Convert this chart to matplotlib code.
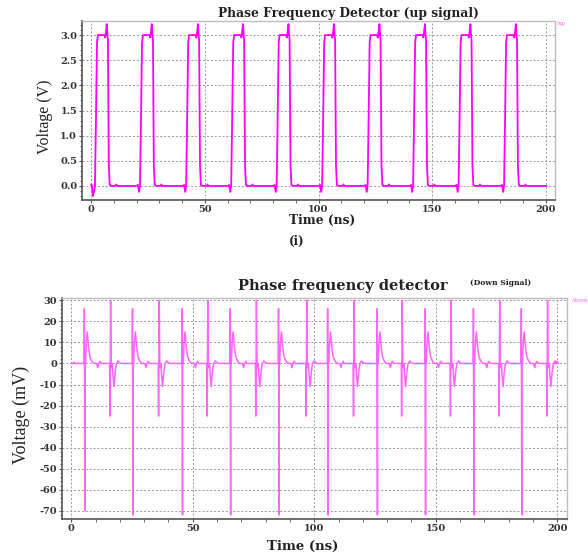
import numpy as np
import matplotlib
matplotlib.use("Agg")
import matplotlib.pyplot as plt
from matplotlib.ticker import MultipleLocator, AutoMinorLocator

# ---- up signal (V): one pulse shape, repeated at each rise time
up_starts = [1.8, 21.6, 41.9, 61.7, 81.7, 101.7, 121.7, 141.7, 161.7, 181.7]
up_peaks = [3.22, 3.22, 3.22, 3.22, 3.22, 3.22, 3.22, 3.22, 3.22, 3.22]
up_shape_t = [-1.6, -1.0, -0.5, -0.1, 0.3, 0.8, 1.2, 3.0, 4.1, 4.4, 4.7, 5.1, 5.4, 5.6, 6.0, 6.4, 7.0, 9.0, 9.3, 9.6]
up_shape_v = [0.0, 0.02, -0.12, 0.0, 1.2, 2.85, 3.0, 3.0, 3.0, 2.95, 3.05, None, 3.0, 2.9, 0.4, 0.02, 0.0, 0.0, 0.03, 0.0]
up_first_t = [0.0, 0.4, 0.8, 1.2]
up_first_v = [0.03, 0.0, -0.2, -0.1]
up_end_t = [200.0]

# ---- down signal (mV): two alternating event shapes
big_times = [5.3, 25.1, 45.5, 65.3, 85.2, 105.4, 125.7, 145.5, 165.4, 185.1]
big_top = [26, 26, 26, 26, 26, 26, 26, 26, 26, 26]
big_bottom = [-70, -72, -72, -72, -72, -72, -72, -72, -72, -72]
big_shape_t = [-0.1, 0.0, 0.1, 0.35, 0.6, 0.9, 1.3, 1.8, 2.4, 3.2, 4.0, 5.2, 5.6, 6.0, 6.5, 7.0]
big_shape_v = [0.0, 0.0, None, -1, 0.0, 10, 15, 8, 3, 1.0, 0.0, 0.0, -2.0, 0.0, 1.0, 0.0]

small_times = [15.8, 35.8, 55.8, 75.8, 96.5, 116.0, 135.8, 155.9, 175.9, 195.6]
small_top = [30, 30, 30, 30, 30, 30, 30, 30, 30, 30]
small_bottom = [-25, -25, -25, -25, -25, -25, -25, -25, -25, -25]
small_shape_t = [-0.1, 0.0, 0.15, 0.4, 0.65, 0.9, 1.1, 1.4, 1.8, 2.3, 2.8, 3.5, 4.2, 5.0]
small_shape_v = [0.0, None, None, None, 0.0, -2.0, 0.0, -6.0, -11.0, -4.0, 0.0, 1.2, 0.3, 0.0]


def build_up():
    t = list(up_first_t)
    v = list(up_first_v)
    for s, pk in zip(up_starts, up_peaks):
        for dt, val in zip(up_shape_t, up_shape_v):
            if s + dt < t[-1]:
                continue
            t.append(s + dt)
            v.append(pk if val is None else val)
    t += up_end_t
    v += [0.0]
    return np.array(t), np.array(v)


def build_down():
    events = []
    for s, top, bot in zip(big_times, big_top, big_bottom):
        vals = list(big_shape_v)
        vals[2] = top
        # big negative spike right after the positive one
        tt = list(big_shape_t)
        tt.insert(3, 0.3)
        vals.insert(3, bot)
        events.append((s, tt, vals))
    for s, top, bot in zip(small_times, small_top, small_bottom):
        vals = list(small_shape_v)
        vals[1] = 0.0
        vals[2] = bot
        vals[3] = top
        events.append((s, small_shape_t, vals))
    events.sort(key=lambda e: e[0])
    t = [0.0, 0.8, 1.1, 1.4]
    v = [0.0, 0.0, 0.6, 0.0]
    for s, tt, vals in events:
        for dt, val in zip(tt, vals):
            if s + dt <= t[-1]:
                continue
            t.append(s + dt)
            v.append(val)
    t += [199.0, 200.0]
    v += [0.0, 1.0]
    return np.array(t), np.array(v)


plt.rcParams["font.family"] = ["DejaVu Serif"]
plt.rcParams["axes.unicode_minus"] = False
NARROW = ["Liberation Serif", "DejaVu Serif"]

W, H = 588, 554
fig = plt.figure(figsize=(W / 100, H / 100), dpi=100)


def px_axes(l, t, r, b):
    return fig.add_axes([l / W, 1 - b / H, (r - l) / W, (b - t) / H])


def style(ax):
    ax.grid(True, which="major", color="#9a9a9a", linestyle=(0, (2, 2)), linewidth=0.7)
    for side in ["top", "right"]:
        ax.spines[side].set_color("#bdbdbd")
        ax.spines[side].set_linewidth(1.0)
    for side in ["left", "bottom"]:
        ax.spines[side].set_color("#555555")
        ax.spines[side].set_linewidth(1.2)
    ax.tick_params(which="both", direction="out", colors="#555555", labelcolor="#333333",
                   labelsize=7, top=False, right=False, pad=1)
    ax.tick_params(which="major", length=2.5)
    ax.tick_params(which="minor", length=1.8)
    for lbl in ax.get_xticklabels() + ax.get_yticklabels():
        lbl.set_fontweight("bold")


# ---- top panel
ax1 = px_axes(82, 21, 555, 200)
tu, vu = build_up()
ax1.plot(tu, vu, color="#ff00ff", linewidth=1.3)
ax1.set_xlim(-4, 204)
ax1.set_ylim(-0.28, 3.28)
ax1.xaxis.set_major_locator(MultipleLocator(50))
ax1.xaxis.set_minor_locator(MultipleLocator(10))
ax1.yaxis.set_major_locator(MultipleLocator(0.5))
ax1.yaxis.set_minor_locator(AutoMinorLocator(5))
ax1.yaxis.set_major_formatter(plt.FormatStrFormatter("%.1f"))
style(ax1)

fig.text(348 / W, 1 - 14 / H, "Phase Frequency Detector (up signal)", ha="center", va="center",
         fontsize=8.8, fontweight="bold", color="#222222")
fig.text(322 / W, 1 - 220 / H, "Time (ns)", ha="center", va="center", fontsize=8.8,
         fontweight="bold", color="#222222")
fig.text(297 / W, 1 - 241 / H, "(i)", ha="center", va="center", fontsize=8.5,
         fontweight="bold", color="#222222")
fig.text(45 / W, 1 - 117 / H, "Voltage (V)", ha="center", va="center", rotation=90,
         fontsize=11.5, color="#222222", family=NARROW)
fig.text(557 / W, 1 - 23 / H, "/up", ha="left", va="center", fontsize=3.5, color="#ff55ff")

# ---- bottom panel
ax2 = px_axes(62, 298, 567, 519)
td, vd = build_down()
ax2.plot(td, vd, color="#ff66ff", linewidth=1.1)
ax2.set_xlim(-3.8, 204)
ax2.set_ylim(-73.9, 31.1)
ax2.xaxis.set_major_locator(MultipleLocator(50))
ax2.xaxis.set_minor_locator(MultipleLocator(10))
ax2.yaxis.set_major_locator(MultipleLocator(10))
ax2.yaxis.set_minor_locator(AutoMinorLocator(5))
style(ax2)

fig.text(343 / W, 1 - 286 / H, "Phase frequency detector", ha="center", va="center",
         fontsize=10.5, fontweight="bold", color="#222222")
fig.text(501 / W, 1 - 283 / H, "(Down Signal)", ha="center", va="center",
         fontsize=5.5, fontweight="bold", color="#222222")
fig.text(303 / W, 1 - 546 / H, "Time (ns)", ha="center", va="center", fontsize=9.5,
         fontweight="bold", color="#222222")
fig.text(21 / W, 1 - 415 / H, "Voltage (mV)", ha="center", va="center", rotation=90,
         fontsize=13, color="#222222", family=NARROW)
fig.text(572 / W, 1 - 300 / H, "/down", ha="left", va="center", fontsize=3.5, color="#ff55ff")

fig.savefig("out.png", dpi=100)
